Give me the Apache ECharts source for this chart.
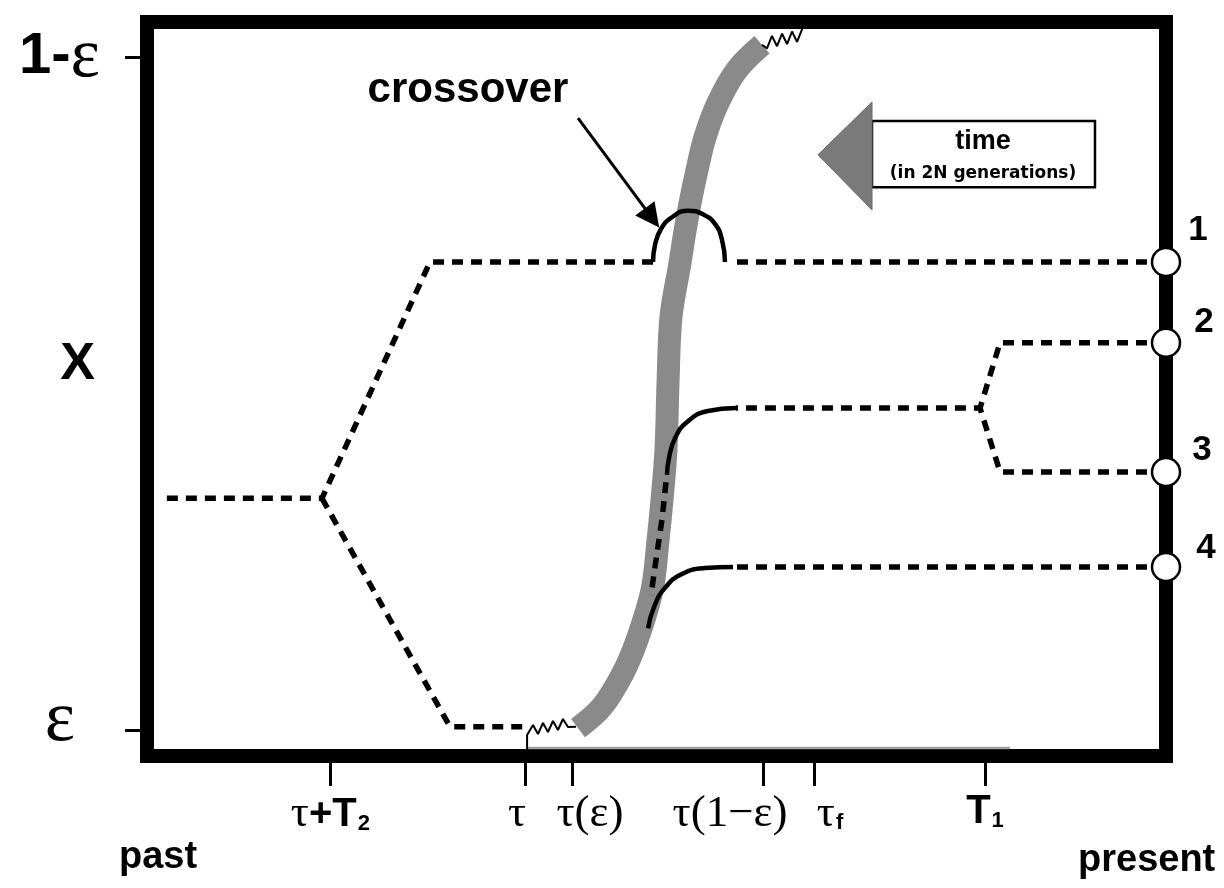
<!DOCTYPE html>
<html>
<head>
<meta charset="utf-8">
<script src="https://cdn.jsdelivr.net/npm/echarts@6/dist/echarts.min.js"></script>
<style>
  html, body { margin: 0; padding: 0; background: #fff; }
  #chart { width: 1224px; height: 888px; }
</style>
</head>
<body>
<div id="chart"></div>
<script>
// x: time before the present (grows to the left), y: frequency of the selected allele

// bottom axis ticks and their labels
const xTickValues = [8.20, 6.29, 5.83, 3.955, 3.454, 1.776];
const xTickLabels = [
  '{s|τ}{b|+T}{sb|2}',
  '{sr16|τ}',
  '{sl36|τ(ε)}',
  '{sr66|τ(1−ε)}',
  '{sl32|τ}{sf|f}',
  '{b|T}{sb|1}'
];

// left axis ticks and labels
const yTickValues = [0.035, 0.952];
const yLabelValues = [0.047, 0.533, 0.952];
const yLabelTexts = ['{e2|ε}', '{x|X}', '{b1|1-}{e|ε}'];

// frequency trajectory of the sweeping allele
const sweepPath = [
  [5.770, 0.038], [5.535, 0.067], [5.329, 0.113], [5.191, 0.158],
  [5.044, 0.226], [4.985, 0.294], [4.946, 0.349], [4.907, 0.417],
  [4.887, 0.508], [4.858, 0.598], [4.769, 0.672], [4.730, 0.707],
  [4.671, 0.753], [4.603, 0.798], [4.524, 0.843], [4.396, 0.890],
  [4.210, 0.935], [3.965, 0.969]
];

// stochastic phases at both ends of the sweep
const lowZigzag = [
  [6.27, 0.0], [6.27, 0.0286], [6.212, 0.0422], [6.163, 0.0300], [6.114, 0.0450],
  [6.065, 0.0327], [6.016, 0.0477], [5.967, 0.0354], [5.918, 0.0504], [5.869, 0.0395],
  [5.790, 0.040]
];
const highZigzag = [
  [3.965, 0.969], [3.916, 0.964], [3.867, 0.981], [3.817, 0.967], [3.768, 0.984],
  [3.719, 0.970], [3.670, 0.987], [3.621, 0.973], [3.572, 0.990], [3.562, 1.0]
];
const baseShade = [[6.27, 0.011], [1.53, 0.011]];

// neutral (dashed) lineages
const lineage1Recent = [[0, 0.673], [4.279, 0.673]];
const lineage1Old = [[5.034, 0.673], [7.223, 0.673], [8.283, 0.351], [9.872, 0.351]];
const lineageLowBranch = [[8.283, 0.351], [7.027, 0.040], [6.29, 0.040]];
const lineage2 = [[0, 0.563], [1.629, 0.563], [1.825, 0.474]];
const lineage3 = [[0, 0.387], [1.629, 0.387], [1.825, 0.474], [4.220, 0.474]];
const lineage4 = [[0, 0.2575], [4.249, 0.2575]];
const linkedOnSweep = [[4.907, 0.373], [4.946, 0.322], [5.005, 0.267], [5.054, 0.219]];

// solid segments: crossover jump and lineages caught by the sweep
const crossoverArc = [
  [5.034, 0.673], [5.015, 0.696], [4.956, 0.718], [4.848, 0.734], [4.691, 0.743],
  [4.544, 0.738], [4.426, 0.725], [4.357, 0.703], [4.328, 0.673]
];
const caught3 = [[4.220, 0.474], [4.495, 0.470], [4.691, 0.456], [4.818, 0.433], [4.877, 0.406], [4.897, 0.383]];
const caught4 = [[4.249, 0.2575], [4.524, 0.256], [4.750, 0.248], [4.917, 0.229], [5.024, 0.203], [5.083, 0.174]];

// sampled sequences at the present
const sampleNames = ['1', '2', '3', '4'];
const sampleY = [0.673, 0.563, 0.387, 0.2575];
const sampleLabelOffset = [[32, -32], [38, -20], [36, -22], [40, -19]];

// "time" arrow
const timeArrowHead = [[3.415, 0.819], [2.885, 0.891], [2.885, 0.744]];
const timeBox = [[2.885, 0.865], [0.697, 0.775]];

// pointer to the crossover
const crossoverPointer = [[5.770, 0.869], [5.044, 0.733]];

// free text
const notes = [
  { name: 'crossover', at: [6.85, 0.907], size: 42, font: 'Liberation Sans' },
  { name: 'past', at: [9.892, -0.138], size: 38, font: 'Liberation Sans' },
  { name: 'present', at: [0.19, -0.142], size: 38, font: 'Liberation Sans' },
  { name: 'time', at: [1.796, 0.837], size: 27, font: 'Liberation Sans' },
  { name: '(in 2N generations)', at: [1.796, 0.793], size: 17, font: 'DejaVu Sans' }
];

const SANS = 'Liberation Sans';
const SERIF = 'Liberation Serif';

function dashed(data) {
  return {
    type: 'line', data: data, symbol: 'none', silent: true, z: 3,
    lineStyle: { color: '#000', width: 5.5, type: [11, 8], cap: 'butt', join: 'miter' }
  };
}
function solid(data, width, smooth) {
  return {
    type: 'line', data: data, symbol: 'none', silent: true, z: 4, smooth: smooth,
    lineStyle: { color: '#000', width: width, cap: 'butt' }
  };
}
function nearest(list, v) {
  let best = 0;
  for (let i = 1; i < list.length; i++) {
    if (Math.abs(list[i] - v) < Math.abs(list[best] - v)) best = i;
  }
  return best;
}

const serifBase = { fontFamily: SERIF, fontSize: 45, color: '#000' };

const chart = echarts.init(document.getElementById('chart'), null, { renderer: 'canvas' });

chart.setOption({
  animation: false,
  backgroundColor: '#fff',
  grid: {
    left: 147, right: 58, top: 22, bottom: 132,
    show: true, borderColor: '#000', borderWidth: 14, backgroundColor: '#fff', z: 0
  },
  xAxis: {
    type: 'value', min: 0, max: 10, inverse: true, position: 'bottom',
    axisLine: { show: false, onZero: false },
    splitLine: { show: false },
    axisTick: {
      show: true, customValues: xTickValues, length: 30, inside: false,
      lineStyle: { color: '#000', width: 3 }
    },
    axisLabel: {
      show: true, customValues: xTickValues, margin: 36,
      formatter: function (v) { return xTickLabels[nearest(xTickValues, v)]; },
      rich: {
        s: serifBase,
        sr16: Object.assign({}, serifBase, { padding: [0, 16, 0, 0] }),
        sl36: Object.assign({}, serifBase, { padding: [0, 0, 0, 36] }),
        sr66: Object.assign({}, serifBase, { padding: [0, 66, 0, 0] }),
        sl32: Object.assign({}, serifBase, { padding: [0, 0, 0, 32] }),
        b: { fontFamily: SANS, fontSize: 40, fontWeight: 'bold', color: '#000' },
        sb: { fontFamily: SANS, fontSize: 22, fontWeight: 'bold', color: '#000', padding: [18, 0, 0, 1] },
        sf: { fontFamily: SANS, fontSize: 22, fontWeight: 'bold', color: '#000', padding: [16, 0, 0, 1] }
      }
    }
  },
  yAxis: {
    type: 'value', min: 0, max: 1, position: 'left',
    axisLine: { show: false, onZero: false },
    splitLine: { show: false },
    axisTick: {
      show: true, customValues: yTickValues, length: 22,
      lineStyle: { color: '#000', width: 3 }
    },
    axisLabel: {
      show: true, customValues: yLabelValues, margin: 47,
      formatter: function (v) { return yLabelTexts[nearest(yLabelValues, v)]; },
      rich: {
        b1: { fontFamily: SANS, fontSize: 58, fontWeight: 'bold', color: '#000' },
        e: { fontFamily: SERIF, fontSize: 70, color: '#000' },
        e2: { fontFamily: SERIF, fontSize: 72, color: '#000', padding: [0, 25, 0, 0] },
        x: { fontFamily: SANS, fontSize: 52, fontWeight: 'bold', color: '#000', padding: [0, 5, 0, 0] }
      }
    }
  },
  series: [
    // trajectory of the favoured allele
    {
      type: 'line', data: sweepPath, symbol: 'none', smooth: 0.35, silent: true, z: 2,
      lineStyle: { color: '#8a8a8a', width: 23, cap: 'butt' }
    },
    solid(lowZigzag, 2, false),
    solid(highZigzag, 2, false),
    {
      type: 'line', data: baseShade, symbol: 'none', silent: true, z: 1,
      lineStyle: { color: '#a0a0a0', width: 2.5 }
    },
    dashed(lineage1Recent),
    dashed(lineage1Old),
    dashed(lineageLowBranch),
    dashed(lineage2),
    dashed(lineage3),
    dashed(lineage4),
    dashed(linkedOnSweep),
    solid(crossoverArc, 4.5, true),
    solid(caught3, 4.5, true),
    solid(caught4, 4.5, true),
    // pointer to the crossover
    {
      type: 'lines', coordinateSystem: 'cartesian2d', silent: true, z: 5,
      symbol: ['none', 'triangle'], symbolSize: [9, 24],
      lineStyle: { color: '#000', width: 3, opacity: 1, curveness: 0 },
      data: [{ coords: crossoverPointer }]
    },
    // time arrow with its box
    {
      type: 'custom', silent: true, z: 5, clip: false,
      data: [[0, 0]],
      renderItem: function (params, api) {
        const head = timeArrowHead.map(function (p) { return api.coord(p); });
        const a = api.coord(timeBox[0]);
        const b = api.coord(timeBox[1]);
        return {
          type: 'group',
          children: [
            {
              type: 'rect',
              shape: { x: a[0], y: a[1], width: b[0] - a[0], height: b[1] - a[1] },
              style: { fill: '#fff', stroke: '#000', lineWidth: 2.5 }
            },
            {
              type: 'polygon',
              shape: { points: head },
              style: { fill: '#7a7a7a', stroke: '#6a6a6a', lineWidth: 1 }
            }
          ]
        };
      }
    },
    // sampled sequences
    {
      type: 'scatter', silent: true, z: 6, clip: false,
      symbol: 'circle', symbolSize: 28,
      itemStyle: { color: '#fff', borderColor: '#000', borderWidth: 2.5, opacity: 1 },
      data: sampleNames.map(function (n, i) {
        return {
          name: n, value: [0, sampleY[i]],
          label: {
            show: true, position: 'inside', offset: sampleLabelOffset[i], formatter: n,
            fontFamily: SANS, fontWeight: 'bold', fontSize: 35, color: '#000'
          }
        };
      })
    },
    // text
    {
      type: 'scatter', silent: true, z: 7, clip: false,
      symbolSize: 0,
      itemStyle: { opacity: 1 },
      data: notes.map(function (t) {
        return {
          name: t.name, value: t.at,
          label: {
            show: true, position: 'inside', formatter: t.name,
            fontFamily: t.font, fontWeight: 'bold', fontSize: t.size, color: '#000'
          }
        };
      })
    }
  ]
});
</script>
</body>
</html>
